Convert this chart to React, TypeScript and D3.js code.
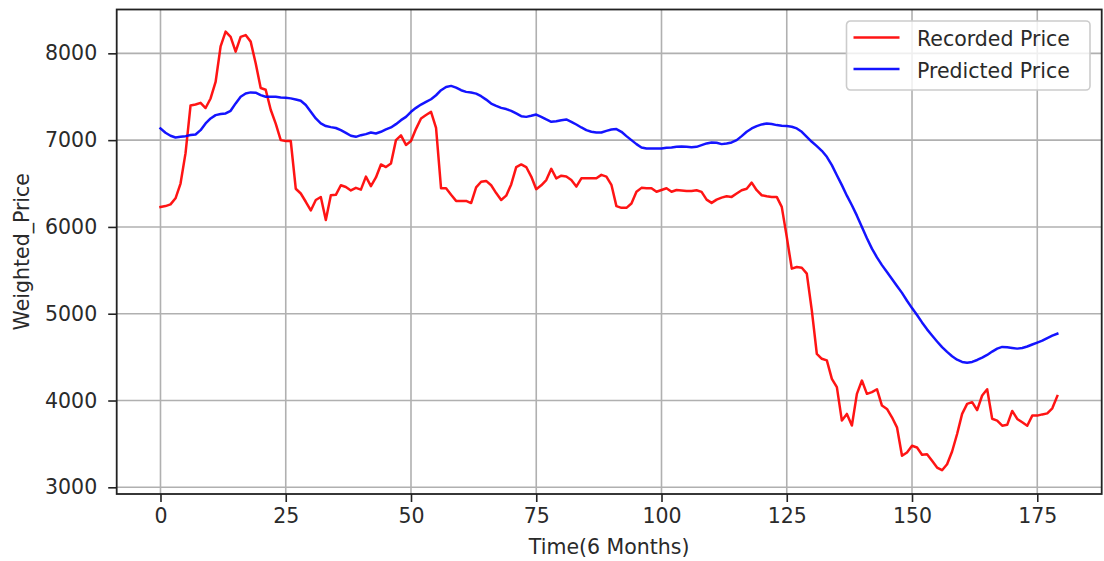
import React, { useRef, useEffect } from "react";
import * as d3 from "d3";

// values, one per time step (0..179)
const recorded = [
  6230, 6240, 6260, 6330, 6500, 6850, 7400, 7410, 7430, 7370,
  7480, 7670, 8080, 8250, 8190, 8020, 8190, 8210, 8135, 7885,
  7600, 7580, 7350, 7190, 7000, 6990, 6990, 6440, 6385, 6290,
  6190, 6310, 6345, 6080, 6365, 6370, 6480, 6460, 6420, 6450,
  6430, 6580, 6470, 6570, 6720, 6690, 6730, 7000, 7055, 6945,
  6990, 7130, 7250, 7290, 7325, 7140, 6445, 6445, 6370, 6300,
  6300, 6300, 6275, 6455, 6520, 6530, 6480, 6390, 6310, 6360,
  6490, 6690, 6720, 6690, 6580, 6435, 6480, 6540, 6670, 6560,
  6590, 6580, 6540, 6465, 6560, 6560, 6560, 6560, 6600, 6580,
  6485, 6240, 6220, 6220, 6270, 6405, 6450, 6445, 6445, 6405,
  6425, 6445, 6405, 6425, 6420, 6415, 6415, 6423, 6404, 6315,
  6277, 6315, 6338, 6354, 6346, 6385, 6423, 6440, 6510, 6423,
  6365, 6354, 6346, 6346, 6231, 5885, 5519, 5538, 5530, 5462,
  5038, 4538, 4481, 4462, 4250, 4154, 3769, 3846, 3712, 4077,
  4230, 4077, 4097, 4130, 3942, 3903, 3807, 3691, 3363, 3402,
  3479, 3459, 3375, 3382, 3305, 3228, 3197, 3266, 3413, 3614,
  3846, 3961, 3981, 3890, 4058, 4130, 3790, 3768, 3710, 3720,
  3880, 3788, 3749, 3710, 3826, 3826, 3840, 3852, 3910, 4052,
];

const predicted = [
  7135, 7085, 7050, 7031, 7038, 7046, 7058, 7065, 7115, 7192,
  7250, 7288, 7300, 7308, 7338, 7423, 7500, 7538, 7550, 7546,
  7519, 7500, 7500, 7500, 7492, 7488, 7481, 7469, 7454, 7404,
  7327, 7250, 7192, 7162, 7150, 7140, 7115, 7084, 7050, 7038,
  7057, 7069, 7088, 7077, 7096, 7123, 7146, 7184, 7230, 7268,
  7326, 7372, 7410, 7441, 7471, 7517, 7575, 7613, 7625, 7605,
  7575, 7556, 7548, 7536, 7506, 7467, 7421, 7395, 7372, 7358,
  7337, 7307, 7276, 7268, 7280, 7295, 7268, 7238, 7211, 7218,
  7230, 7238, 7211, 7180, 7146, 7115, 7096, 7088, 7088, 7107,
  7123, 7127, 7096, 7046, 7000, 6954, 6916, 6904, 6904, 6904,
  6904, 6912, 6916, 6923, 6927, 6923, 6919, 6923, 6942, 6962,
  6973, 6969, 6954, 6962, 6973, 7000, 7046, 7096, 7135, 7162,
  7181, 7192, 7185, 7173, 7165, 7162, 7154, 7135, 7096, 7038,
  6981, 6931, 6877, 6808, 6712, 6596, 6481, 6360, 6250, 6130,
  6000, 5870, 5750, 5650, 5560, 5480, 5400, 5320, 5240, 5150,
  5065, 4985, 4900, 4820, 4750, 4680, 4615, 4560, 4510, 4470,
  4445, 4436, 4445, 4467, 4494, 4525, 4564, 4598, 4618, 4614,
  4606, 4598, 4606, 4622, 4645, 4668, 4690, 4720, 4747, 4770,
];

const xTicks = [0, 25, 50, 75, 100, 125, 150, 175];
const yTicks = [3000, 4000, 5000, 6000, 7000, 8000];
const seriesNames = ["Recorded Price", "Predicted Price"];
const seriesColors = ["#ff0000", "#0000ff"];

const W = 1104;
const H = 561;
const left = 116.7;
const right = 1101.7;
const top = 9.5;
const bottom = 494;
const font = "DejaVu Sans, sans-serif";

export default function App() {
  const svgRef = useRef<SVGSVGElement>(null);

  useEffect(() => {
    const svg = d3.select(svgRef.current);
    svg.selectAll("*").remove();

    const x = d3.scaleLinear().domain([-8.74, 187.86]).range([left, right]);
    const y = d3.scaleLinear().domain([2923, 8505]).range([bottom, top]);

    // grid
    const grid = svg.append("g").attr("stroke", "#b0b0b0").attr("stroke-width", 1.6);
    grid
      .selectAll(".gx")
      .data(xTicks)
      .join("line")
      .attr("x1", (d) => x(d))
      .attr("x2", (d) => x(d))
      .attr("y1", top)
      .attr("y2", bottom);
    grid
      .selectAll(".gy")
      .data(yTicks)
      .join("line")
      .attr("x1", left)
      .attr("x2", right)
      .attr("y1", (d) => y(d))
      .attr("y2", (d) => y(d));

    // lines
    const line = d3
      .line<number>()
      .x((_, i) => x(i))
      .y((d) => y(d));
    [recorded, predicted].forEach((data, k) => {
      svg
        .append("path")
        .datum(data)
        .attr("d", line)
        .attr("fill", "none")
        .attr("stroke", seriesColors[k])
        .attr("stroke-width", 2.5)
        .attr("stroke-opacity", 0.92)
        .attr("stroke-linejoin", "round")
        .attr("stroke-linecap", "square");
    });

    // axes
    const xAxis = svg
      .append("g")
      .attr("transform", `translate(0,${bottom})`)
      .call(d3.axisBottom(x).tickValues(xTicks).tickSize(8).tickPadding(6));
    const yAxis = svg
      .append("g")
      .attr("transform", `translate(${left},0)`)
      .call(d3.axisLeft(y).tickValues(yTicks).tickFormat(d3.format("d")).tickSize(8.5).tickPadding(11));
    [xAxis, yAxis].forEach((g) => {
      g.select(".domain").remove();
      g.selectAll("line").attr("stroke", "#222").attr("stroke-width", 1.6);
      g.selectAll("text").attr("font-family", font).attr("font-size", 20.5).attr("fill", "#2a2a2a");
    });

    // frame
    svg
      .append("rect")
      .attr("x", left)
      .attr("y", top)
      .attr("width", right - left)
      .attr("height", bottom - top)
      .attr("fill", "none")
      .attr("stroke", "#222")
      .attr("stroke-width", 1.8);

    // axis labels
    svg
      .append("text")
      .attr("x", (left + right) / 2)
      .attr("y", 554)
      .attr("text-anchor", "middle")
      .attr("font-family", font)
      .attr("font-size", 20.5)
      .attr("fill", "#2a2a2a")
      .text("Time(6 Months)");
    svg
      .append("text")
      .attr("transform", `translate(29,${(top + bottom) / 2}) rotate(-90)`)
      .attr("text-anchor", "middle")
      .attr("font-family", font)
      .attr("font-size", 20.5)
      .attr("fill", "#2a2a2a")
      .text("Weighted_Price");

    // legend
    const lg = svg.append("g").attr("transform", "translate(846.5,21)");
    lg.append("rect")
      .attr("width", 243.5)
      .attr("height", 69)
      .attr("rx", 4)
      .attr("fill", "white")
      .attr("fill-opacity", 0.8)
      .attr("stroke", "#cccccc")
      .attr("stroke-width", 1.6);
    seriesNames.forEach((name, k) => {
      const cy = 16.5 + k * 31.6;
      lg.append("line")
        .attr("x1", 7)
        .attr("x2", 53)
        .attr("y1", cy)
        .attr("y2", cy)
        .attr("stroke", seriesColors[k])
        .attr("stroke-width", 2.5)
        .attr("stroke-opacity", 0.92);
      lg.append("text")
        .attr("x", 70.5)
        .attr("y", cy + 8.5)
        .attr("font-family", font)
        .attr("font-size", 20.5)
        .attr("fill", "#2a2a2a")
        .text(name);
    });
  }, []);

  return (
    <svg
      ref={svgRef}
      width={W}
      height={H}
      style={{ position: "absolute", left: 0, top: 0, background: "white" }}
    ></svg>
  );
}
